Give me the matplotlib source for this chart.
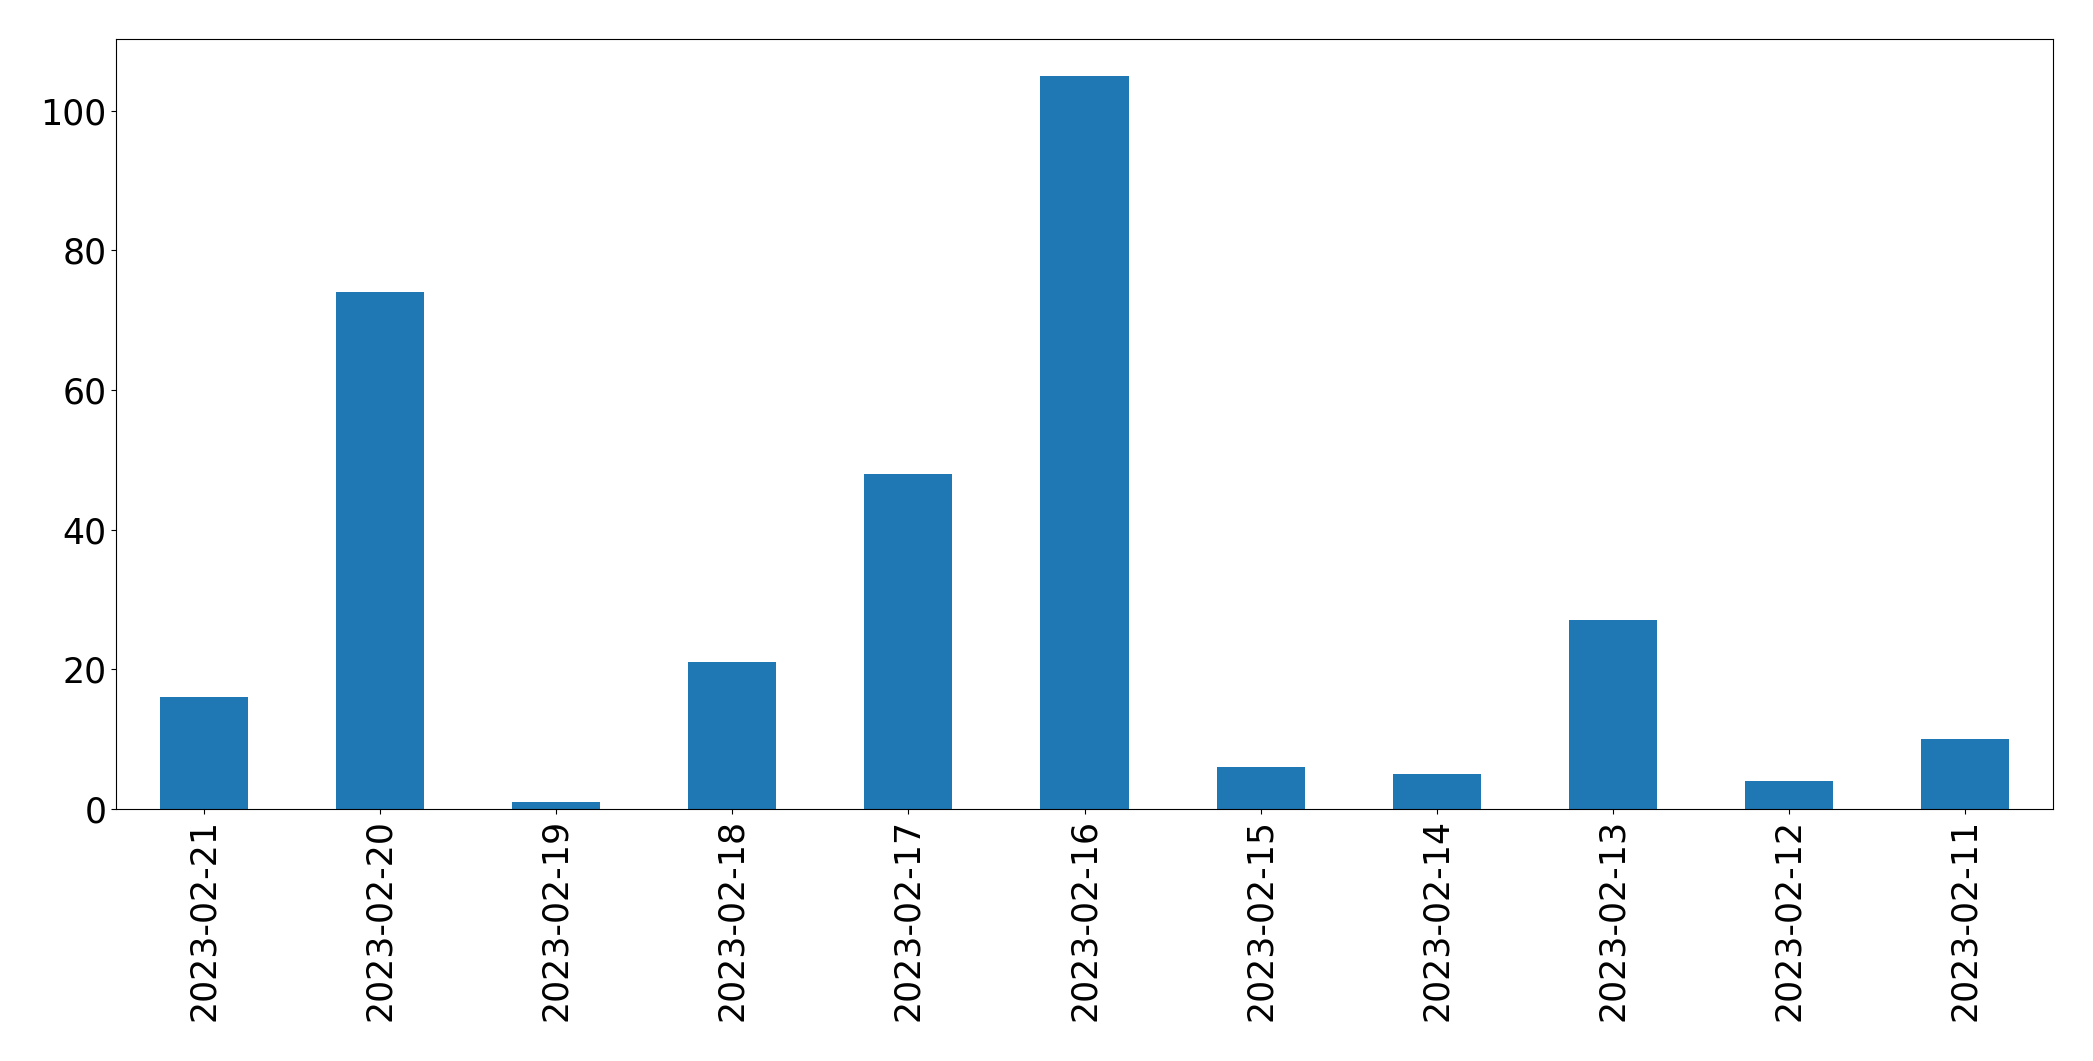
import matplotlib
matplotlib.use('Agg')
import matplotlib.pyplot as plt
import pandas as pd

dates = ['2023-02-21', '2023-02-20', '2023-02-19', '2023-02-18', '2023-02-17', '2023-02-16',
         '2023-02-15', '2023-02-14', '2023-02-13', '2023-02-12', '2023-02-11']
counts = [16, 74, 1, 21, 48, 105, 6, 5, 27, 4, 10]

series = pd.Series(counts, index=dates)

fig = plt.figure(figsize=(20.93, 10.61), dpi=100)
ax = fig.add_axes([116 / 2093, 1 - 809 / 1061, (2053 - 116) / 2093, (809 - 39) / 1061])
series.plot(kind='bar', ax=ax, color='#1f77b4', width=0.5)
ax.tick_params(axis='both', labelsize=25)
ax.tick_params(axis='x', rotation=90)

fig.savefig('out.png', dpi=100)
